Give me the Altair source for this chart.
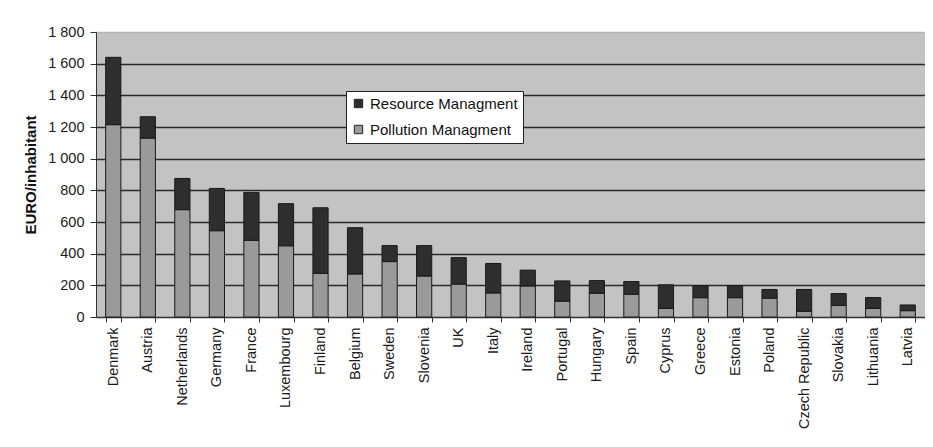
import altair as alt
import pandas as pd

countries = ["Denmark", "Austria", "Netherlands", "Germany", "France", "Luxembourg",
             "Finland", "Belgium", "Sweden", "Slovenia", "UK", "Italy", "Ireland",
             "Portugal", "Hungary", "Spain", "Cyprus", "Greece", "Estonia", "Poland",
             "Czech Republic", "Slovakia", "Lithuania", "Latvia"]
pollution = [1215, 1130, 678, 545, 484, 450, 276, 272, 350, 259, 208, 152, 196,
             100, 150, 144, 54, 122, 122, 119, 36, 73, 54, 40]
resource = [425, 135, 197, 267, 303, 266, 414, 292, 101, 192, 167, 186, 100,
            128, 80, 80, 149, 75, 75, 55, 138, 75, 69, 36]
series = ["Resource Managment", "Pollution Managment"]
y_ticks = [0, 200, 400, 600, 800, 1000, 1200, 1400, 1600, 1800]

rows = []
for c, p, r in zip(countries, pollution, resource):
    rows.append({"country": c, "series": series[1], "value": p, "ord": 0})
    rows.append({"country": c, "series": series[0], "value": r, "ord": 1})
df = pd.DataFrame(rows)

FONT = "Liberation Sans"

chart = alt.Chart(df).mark_bar(stroke="#1a1a1a", strokeWidth=1).encode(
    x=alt.X("country:N", sort=countries,
            scale=alt.Scale(paddingInner=0.56, paddingOuter=0.28),
            axis=alt.Axis(title=None, labelAngle=-90, labelAlign="right",
                          labelBaseline="middle", labelFontSize=14.5,
                          labelFont=FONT, labelColor="#1a1a1a", labelPadding=5,
                          tickBand="extent", tickSize=5, tickColor="#333",
                          domainColor="#333", labelOverlap=False)),
    y=alt.Y("value:Q", stack="zero",
            scale=alt.Scale(domain=[0, 1800], nice=False),
            axis=alt.Axis(title="EURO/inhabitant", values=y_ticks,
                          labelExpr="replace(format(datum.value, ','), ',', ' ')",
                          labelFont=FONT, labelFontSize=14.5, labelColor="#1a1a1a",
                          titleFont=FONT, titleFontSize=15, titleFontWeight="bold",
                          titleColor="#111", titlePadding=9,
                          tickSize=6, tickColor="#333", domainColor="#333",
                          labelPadding=6,
                          grid=True, gridWidth=1.5,
                          gridColor={"condition": {"test": "datum.value === 1800",
                                                   "value": "#b4b4b4"},
                                     "value": "#2a2a2a"})),
    color=alt.Color("series:N",
                    scale=alt.Scale(domain=series, range=["#2e2e2e", "#9a9a9a"]),
                    legend=alt.Legend(title=None, orient="none", legendX=250,
                                      legendY=59, symbolType="square",
                                      symbolSize=70, symbolStrokeColor="#222",
                                      symbolStrokeWidth=1,
                                      labelFont=FONT, labelFontSize=15,
                                      labelColor="#111", rowPadding=10,
                                      padding=5, fillColor="white",
                                      strokeColor="#222", cornerRadius=0)),
    order=alt.Order("ord:Q"),
).properties(
    width=829, height=285,
    autosize=alt.AutoSizeParams(type="none"),
    padding={"left": 88, "top": 24, "right": 0, "bottom": 122},
    background="white",
).configure_view(
    fill="#c3c3c3", stroke=None
)

chart.save("out.html", embed_options={"renderer": "svg", "actions": False})
